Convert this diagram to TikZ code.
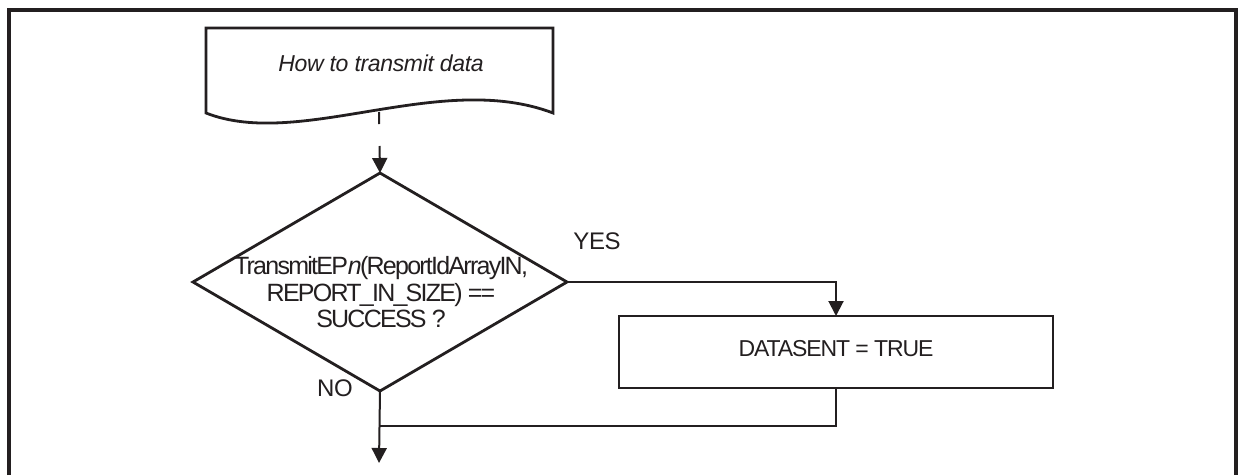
\documentclass[tikz,border=0pt]{standalone}
\usepackage{fontspec}
\setmainfont{Liberation Sans}
\newfontfamily\tightfont[LetterSpace=-7]{Liberation Sans}
\newfontfamily\midfont[LetterSpace=-4.8]{Liberation Sans}
\newfontfamily\lblfont[LetterSpace=-2]{Liberation Sans}
\newfontfamily\docfont[LetterSpace=-1.5]{Liberation Sans Italic}
\usetikzlibrary{shapes.geometric,arrows.meta}
\definecolor{ink}{HTML}{231F20}
\tikzset{
  frame/.style={draw=ink,line width=3.2pt},
  shapeline/.style={draw=ink,line width=2.8pt},
  conn/.style={draw=ink,line width=2pt},
  tip/.style={-{Triangle[length=15pt,width=15pt]}},
  lbl/.style={inner sep=0pt,text=ink,font=\fontsize{24}{26}\lblfont},
}
\begin{document}
\begin{tikzpicture}[x=1pt,y=-1pt]
\useasboundingbox (0,0) rectangle (1238,475);
\fill[white] (0,0) rectangle (1238,475);
% outer frame (open at bottom)
\draw[frame] (9,475) -- (9,10) -- (1236,10) -- (1236,475);
% document shape
\draw[shapeline,line join=miter] (206,113) -- (206,28) -- (553,28) -- (553,113)
   .. controls (440,70) and (300,150) .. (206,113) -- cycle;
\node[lbl,font=\fontsize{23}{26}\docfont] (doc) at (381,63) {How to transmit data};
\coordinate (docbot) at (379,112);
% decision
\node[diamond,shapeline,minimum width=374pt,minimum height=218pt,inner sep=0pt,outer sep=0pt] (dec) at (380,282) {};
\node[lbl,align=center,font=\fontsize{25}{26.5}\tightfont] (dectext) at (381,292.5)
  {TransmitEP\textit{n}(ReportIdArrayIN,\\REPORT\_IN\_SIZE) ==\\SUCCESS ?};
% process box
\node[rectangle,shapeline,minimum width=434pt,minimum height=72pt,inner sep=0pt,outer sep=0pt] (box) at (836,352) {};
\node[lbl,font=\fontsize{23}{26}\midfont] (boxtext) at (836,349) {DATASENT = TRUE};
% labels
\node[lbl] (yes) at (597,241) {YES};
\node[lbl] (no) at (335,388) {NO};
% coordinates
\coordinate (merge) at (379,426);
\coordinate (out) at (379,463);
% connectors
\draw[conn,tip,dash pattern=on 12pt off 22pt] (docbot) -- (dec.north);
\draw[conn,tip] (dec.east) -| (box.north);
\draw[conn,tip] (dec.south) -- (out);
\draw[conn] (box.south) |- (merge);
\end{tikzpicture}
\end{document}
